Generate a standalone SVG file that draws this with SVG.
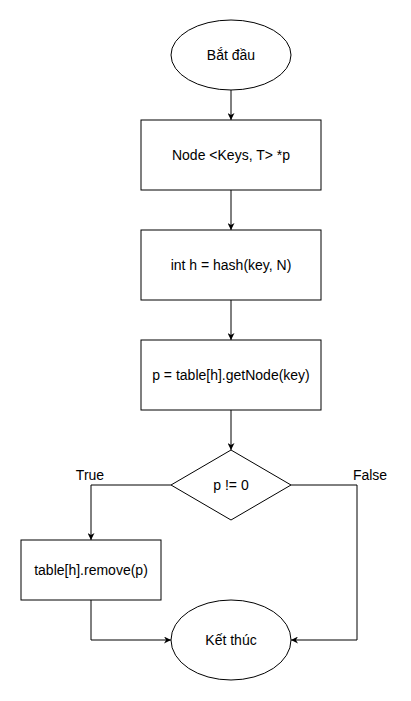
<svg xmlns="http://www.w3.org/2000/svg" width="411" height="701" viewBox="0 0 411 701">
<style>
.s{fill:#fff;stroke:#000;stroke-width:1}
.t{font-family:"Liberation Sans",Arial,sans-serif;font-size:14px;fill:#000;text-anchor:middle;dominant-baseline:central}
.c{fill:none;stroke:#000;stroke-width:1}
</style>
<defs>
<marker id="a" viewBox="0 0 10 10" refX="10" refY="5" markerWidth="7" markerHeight="7" markerUnits="userSpaceOnUse" orient="auto">
<path d="M0,0 L10,5 L0,10 L3,5 Z" fill="#000"/>
</marker>
</defs>
<rect width="411" height="701" fill="#fff"/>
<g id="connectors">
<path class="c" d="M231,90 V120" marker-end="url(#a)"/>
<path class="c" d="M231,190 V230" marker-end="url(#a)"/>
<path class="c" d="M231,300 V340" marker-end="url(#a)"/>
<path class="c" d="M231,410 V450" marker-end="url(#a)"/>
<path class="c" d="M171,485 H91 V540" marker-end="url(#a)"/>
<path class="c" d="M291,485 H357 V640 H291" marker-end="url(#a)"/>
<path class="c" d="M91,600 V640 H171" marker-end="url(#a)"/>
<text class="t" x="90" y="475">True</text>
<text class="t" x="370" y="475">False</text>
</g>
<g id="start">
<ellipse class="s" cx="231" cy="55" rx="60" ry="35"/>
<text class="t" x="231" y="55">Bắt đầu</text>
</g>
<g id="decl">
<rect class="s" x="141" y="120" width="180" height="70"/>
<text class="t" x="231" y="155">Node &lt;Keys, T&gt; *p</text>
</g>
<g id="hash">
<rect class="s" x="141" y="230" width="180" height="70"/>
<text class="t" x="231" y="265">int h = hash(key, N)</text>
</g>
<g id="getnode">
<rect class="s" x="141" y="340" width="180" height="70"/>
<text class="t" x="231" y="375">p = table[h].getNode(key)</text>
</g>
<g id="cond">
<path class="s" d="M231,450 L291,485 L231,520 L171,485 Z"/>
<text class="t" x="231" y="485">p != 0</text>
</g>
<g id="remove">
<rect class="s" x="21" y="540" width="140" height="60"/>
<text class="t" x="91" y="570">table[h].remove(p)</text>
</g>
<g id="end">
<ellipse class="s" cx="231" cy="640" rx="60" ry="40"/>
<text class="t" x="231" y="640">Kết thúc</text>
</g>
</svg>
